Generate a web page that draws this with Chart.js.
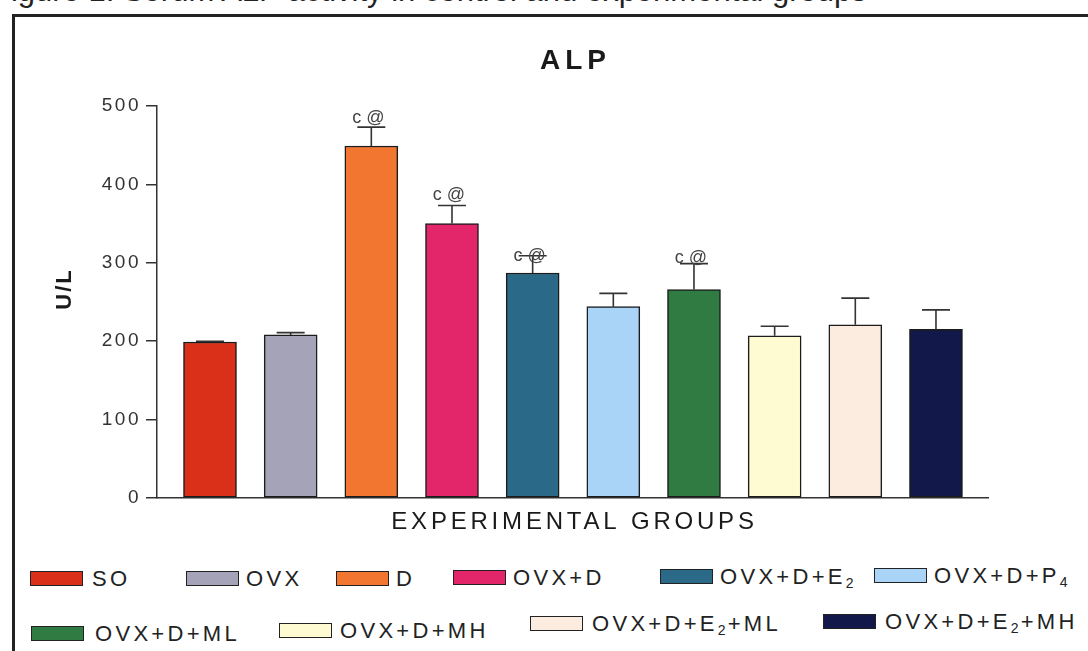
<!DOCTYPE html>
<html>
<head>
<meta charset="utf-8">
<script src="https://cdn.jsdelivr.net/npm/chart.js@4.4.1/dist/chart.umd.min.js"></script>
<style>
  body { margin: 0; background: #fff; width: 1088px; height: 651px; overflow: hidden; position: relative;
         font-family: "Liberation Sans", Arial, sans-serif; }
  #caption { position: absolute; left: -8px; top: -27px; font-size: 31px; color: #222; white-space: nowrap; }
  #frame { position: absolute; left: 12px; top: 14px; width: 1200px; height: 800px; border: 3px solid #222; box-sizing: border-box; }
  #wrap { position: absolute; left: 0; top: 0; width: 1088px; height: 545px; }
  .box { position: absolute; width: 53px; height: 15px; border: 1.5px solid #222; box-sizing: border-box; }
  .lbl { position: absolute; font-size: 22px; line-height: 24px; letter-spacing: 3.3px; color: #222; white-space: nowrap; }
  .lbl sub { font-size: 14px; vertical-align: -4px; line-height: 0; letter-spacing: 2px; }
</style>
</head>
<body>
<div id="caption">Figure 1: Serum ALP activity in control and experimental groups</div>
<div id="frame"></div>
<div id="wrap"><canvas id="alpChart" width="1088" height="545"></canvas></div>
<div id="legend"></div>
<script>
// values (U/L, mean and upper error)
const categories = ['SO', 'OVX', 'D', 'OVX+D', 'OVX+D+E₂', 'OVX+D+P₄', 'OVX+D+ML', 'OVX+D+MH', 'OVX+D+E₂+ML', 'OVX+D+E₂+MH'];
const alpMeans = [199, 208, 449, 350, 287, 244, 266, 207, 221, 215];
const alpErrors = [1, 3, 24, 23, 22, 17, 33, 12, 34, 25];
const barColors = ['#da2f18', '#a5a3b8', '#f27630', '#e3266a', '#2b6988', '#a9d3f7', '#2f7b41', '#fefbd2', '#fcece0', '#12194a'];
const sigLabels = ['', '', 'c @', 'c @', 'c @', '', 'c @', '', '', ''];
const sigLevels = [null, null, 478, 380, 302, null, 300, null, null, null];
const yTicks = [0, 100, 200, 300, 400, 500];

// legend placement: [box left, box top, label left]
const legendSpots = [
    [30, 571, 92], [186, 571, 246], [336, 571, 396], [453, 570, 513], [660, 569, 720], [874, 568, 934],
    [31, 626, 95], [279, 623, 340], [530, 616, 592], [823, 614, 885]
];

const legend = document.getElementById('legend');
categories.forEach((name, i) => {
    const [bx, by, tx] = legendSpots[i];
    const box = document.createElement('div');
    box.className = 'box';
    box.style.left = bx + 'px';
    box.style.top = by + 'px';
    box.style.background = barColors[i];
    legend.appendChild(box);
    const lbl = document.createElement('div');
    lbl.className = 'lbl';
    lbl.style.left = tx + 'px';
    lbl.style.top = (by - 4) + 'px';
    lbl.innerHTML = name.replace(/₂/g, '<sub>2</sub>').replace(/₄/g, '<sub>4</sub>');
    legend.appendChild(lbl);
});

const extras = {
    id: 'extras',
    beforeDraw(chart) {
        chart.ctx.letterSpacing = '2.5px';
    },
    afterDatasetsDraw(chart) {
        const ctx = chart.ctx;
        const y = chart.scales.y;
        const bars = chart.getDatasetMeta(0).data;
        ctx.save();
        ctx.strokeStyle = '#333';
        ctx.lineWidth = 1.6;
        bars.forEach((bar, i) => {
            const top = y.getPixelForValue(alpMeans[i]);
            const tip = y.getPixelForValue(alpMeans[i] + alpErrors[i]);
            ctx.beginPath();
            ctx.moveTo(bar.x, top);
            ctx.lineTo(bar.x, tip);
            ctx.moveTo(bar.x - 14, tip);
            ctx.lineTo(bar.x + 14, tip);
            ctx.stroke();
        });
        ctx.letterSpacing = '0px';
        ctx.fillStyle = '#444';
        ctx.font = '18px "Liberation Sans", Arial, sans-serif';
        ctx.textAlign = 'center';
        ctx.textBaseline = 'alphabetic';
        bars.forEach((bar, i) => {
            if (!sigLabels[i]) return;
            ctx.fillText(sigLabels[i], bar.x - 3, y.getPixelForValue(sigLevels[i]));
        });
        ctx.restore();
    },
    afterDraw(chart) {
        const ctx = chart.ctx;
        const area = chart.chartArea;
        const cx = (area.left + area.right) / 2;
        ctx.save();
        ctx.fillStyle = '#1a1a1a';
        ctx.textAlign = 'center';
        ctx.textBaseline = 'alphabetic';
        ctx.letterSpacing = '5px';
        ctx.font = 'bold 28px "Liberation Sans", Arial, sans-serif';
        ctx.fillText('ALP', cx + 3, 69);
        ctx.letterSpacing = '3.8px';
        ctx.font = '24px "Liberation Sans", Arial, sans-serif';
        ctx.textBaseline = 'middle';
        ctx.fillText('EXPERIMENTAL GROUPS', cx + 2, 522);
        ctx.translate(65, 290);
        ctx.rotate(-Math.PI / 2);
        ctx.letterSpacing = '2px';
        ctx.font = 'bold 22px "Liberation Sans", Arial, sans-serif';
        ctx.fillText('U/L', 1, 0);
        ctx.restore();
    }
};

new Chart(document.getElementById('alpChart').getContext('2d'), {
    type: 'bar',
    data: {
        datasets: [{
            data: categories.map((c, i) => ({ x: i, y: alpMeans[i] })),
            backgroundColor: barColors,
            borderColor: '#1c1c1c',
            borderWidth: 1.5,
            borderSkipped: false,
            barThickness: 53
        }]
    },
    options: {
        responsive: false,
        animation: false,
        events: [],
        layout: { padding: { left: 40, right: 100, top: 106, bottom: 0 } },
        plugins: { legend: { display: false }, tooltip: { enabled: false } },
        scales: {
            x: {
                type: 'linear',
                offset: false,
                min: -0.657,
                max: 9.645,
                ticks: { display: false },
                grid: { display: false },
                border: { display: true, color: '#333', width: 1.5 },
                afterFit: scale => { scale.height = 47; }
            },
            y: {
                min: 0,
                max: 500,
                afterBuildTicks: scale => { scale.ticks = yTicks.map(v => ({ value: v })); },
                ticks: {
                    color: '#333',
                    padding: 5,
                    font: { size: 19, family: '"Liberation Sans", Arial, sans-serif' }
                },
                grid: { drawOnChartArea: false, drawTicks: true, tickLength: 11, color: '#333', lineWidth: 1.5 },
                border: { display: true, color: '#333', width: 1.5 },
                afterFit: scale => { scale.width = 117; }
            }
        }
    },
    plugins: [extras]
});
</script>
</body>
</html>
